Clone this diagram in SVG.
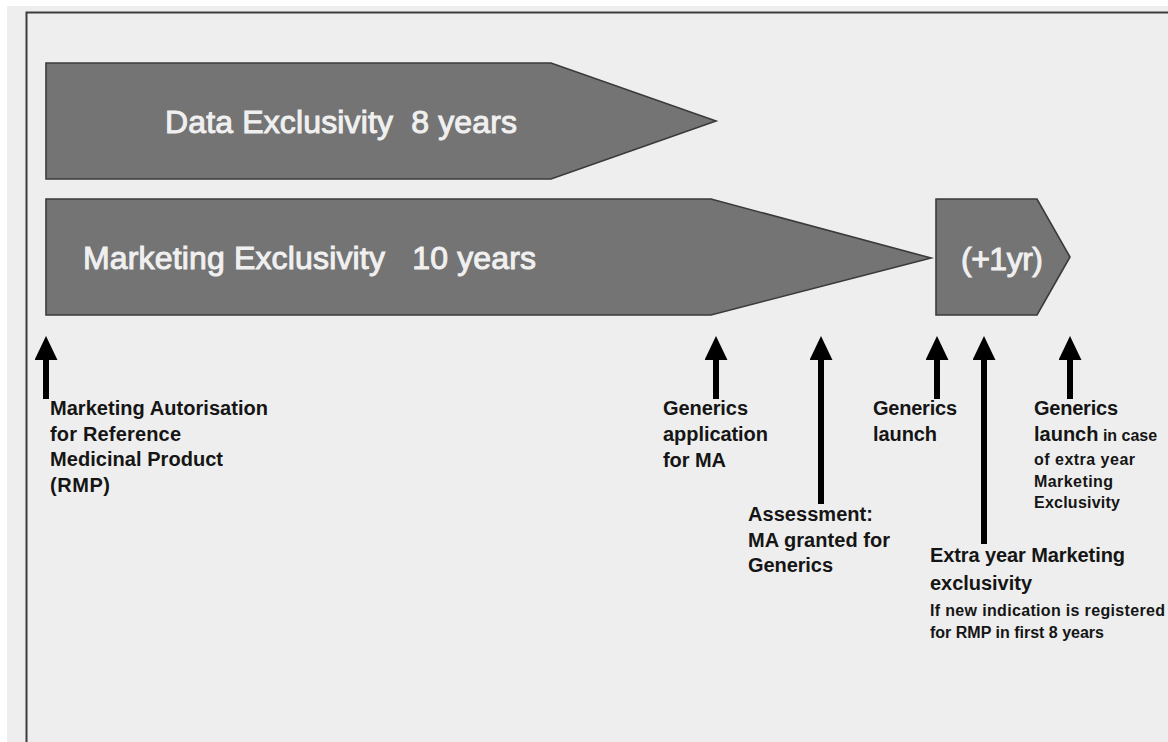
<svg xmlns="http://www.w3.org/2000/svg" width="1168" height="742" viewBox="0 0 1168 742">
  <style>
    .bar { fill: #747474; stroke: #3a3a3a; stroke-width: 1.6; stroke-linejoin: miter; }
    .bar-text { font-family: "Liberation Sans", Arial, sans-serif; font-size: 32px; fill: #f0f0f0; stroke: #f0f0f0; stroke-width: 1; }
    .lbl { font-family: "Liberation Sans", Arial, sans-serif; font-weight: bold; font-size: 20px; fill: #151515; }
    .sm { font-size: 16px; }
    .shaft { stroke: #000; stroke-width: 6; fill: none; marker-end: url(#head); }
  </style>
  <defs>
    <marker id="head" markerUnits="userSpaceOnUse" markerWidth="24" markerHeight="23" viewBox="0 0 23 22" refX="1" refY="11" orient="auto">
      <path d="M0,0 L23,11 L0,22 z" fill="#000"/>
    </marker>
  </defs>

  <!-- page and frame -->
  <rect x="0" y="0" width="1168" height="742" fill="#ffffff"/>
  <rect x="7" y="6" width="1161" height="736" fill="#eeeeee"/>
  <path d="M26.5,742 V12.5 H1168" fill="none" stroke="#3c3c3c" stroke-width="2"/>

  <!-- exclusivity bars -->
  <g id="data-exclusivity">
    <path class="bar" d="M46,63 H551 L716,121 L551,179 H46 z"/>
    <text class="bar-text" x="165" y="133" xml:space="preserve" textLength="352">Data Exclusivity  8 years</text>
  </g>
  <g id="marketing-exclusivity">
    <path class="bar" d="M46,199 H711 L931,258 L711,315 H46 z"/>
    <text class="bar-text" x="83" y="269" xml:space="preserve" textLength="453">Marketing Exclusivity   10 years</text>
  </g>
  <g id="extra-year">
    <path class="bar" d="M936,199 H1037 L1070,257 L1037,315 H936 z"/>
    <text class="bar-text" x="961" y="270" textLength="82">(+1yr)</text>
  </g>

  <!-- timeline arrows -->
  <g id="connectors">
    <line class="shaft" x1="46" y1="399" x2="46" y2="359"/>
    <line class="shaft" x1="716" y1="399" x2="716" y2="359"/>
    <line class="shaft" x1="821" y1="504" x2="821" y2="359"/>
    <line class="shaft" x1="937" y1="399" x2="937" y2="359"/>
    <line class="shaft" x1="984" y1="544" x2="984" y2="359"/>
    <line class="shaft" x1="1070" y1="399" x2="1070" y2="359"/>
  </g>

  <!-- milestone labels -->
  <g id="label-rmp-authorisation" class="lbl">
    <text x="50" y="415" textLength="218">Marketing Autorisation</text>
    <text x="50" y="440.5" textLength="131">for Reference</text>
    <text x="50" y="466" textLength="173">Medicinal Product</text>
    <text x="50" y="491.5" textLength="60">(RMP)</text>
  </g>
  <g id="label-generics-application" class="lbl">
    <text x="663" y="415" textLength="85">Generics</text>
    <text x="663" y="441" textLength="105">application</text>
    <text x="663" y="467" textLength="63">for MA</text>
  </g>
  <g id="label-assessment" class="lbl">
    <text x="748" y="521" textLength="125">Assessment:</text>
    <text x="748" y="546.5" textLength="142">MA granted for</text>
    <text x="748" y="572" textLength="85">Generics</text>
  </g>
  <g id="label-generics-launch" class="lbl">
    <text x="873" y="415" textLength="84">Generics</text>
    <text x="873" y="441" textLength="64">launch</text>
  </g>
  <g id="label-launch-extra-year" class="lbl">
    <text x="1034" y="415" textLength="84">Generics</text>
    <text x="1034" y="441">launch<tspan class="sm"> in case</tspan></text>
    <text class="sm" x="1034" y="465" textLength="101">of extra year</text>
    <text class="sm" x="1034" y="487" textLength="79">Marketing</text>
    <text class="sm" x="1034" y="508" textLength="86">Exclusivity</text>
  </g>
  <g id="label-extra-year" class="lbl">
    <text x="930" y="562" textLength="195">Extra year Marketing</text>
    <text x="930" y="590" textLength="102">exclusivity</text>
    <text class="sm" x="930" y="616" textLength="235">If new indication is registered</text>
    <text class="sm" x="930" y="638">for RMP in first 8 years</text>
  </g>
</svg>
